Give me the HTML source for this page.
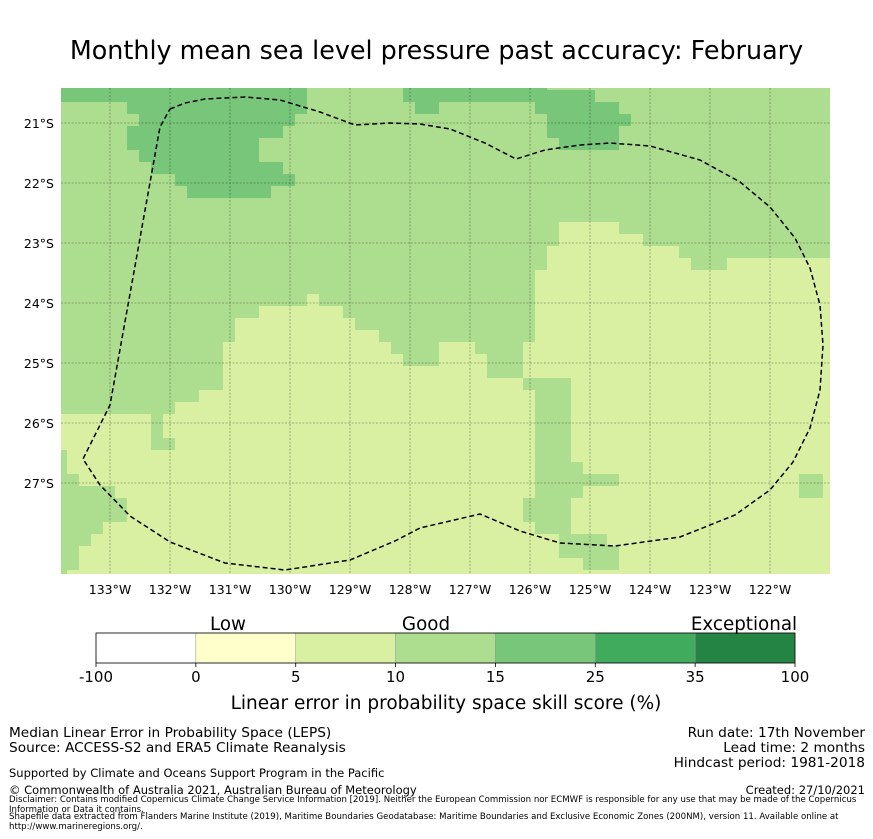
<!DOCTYPE html>
<html><head><meta charset="utf-8"><style>
body{margin:0;background:#fff;font-family:"DejaVu Sans","Liberation Sans",sans-serif;}
#wrap{position:relative;width:873px;height:839px;overflow:hidden;}
.t{position:absolute;white-space:nowrap;color:#000;}
</style></head><body>
<div id="wrap">
<div class="t" style="left:0;width:873px;text-align:center;top:35px;font-size:25.4px;">Monthly mean sea level pressure past accuracy: February</div>
<svg id="svg" width="873" height="839" style="position:absolute;left:0;top:0"></svg>
<div class="t" style="left:9px;top:726px;font-size:13.7px;line-height:15px">Median Linear Error in Probability Space (LEPS)<br>Source: ACCESS-S2 and ERA5 Climate Reanalysis</div>
<div class="t" style="right:8px;top:726px;font-size:13.7px;line-height:15px;text-align:right">Run date: 17th November<br>Lead time: 2 months<br>Hindcast period: 1981-2018</div>
<div class="t" style="left:9px;top:766px;font-size:11.5px">Supported by Climate and Oceans Support Program in the Pacific</div>
<div class="t" style="left:9px;top:783px;font-size:11.5px">© Commonwealth of Australia 2021, Australian Bureau of Meteorology</div>
<div class="t" style="right:8px;top:783px;font-size:11.5px">Created: 27/10/2021</div>
<div class="t" style="left:9px;top:796px;font-size:8.6px;line-height:9.5px;white-space:normal;width:860px">Disclaimer: Contains modified Copernicus Climate Change Service Information [2019]. Neither the European Commission nor ECMWF is responsible for any use that may be made of the Copernicus Information or Data it contains.</div>
<div class="t" style="left:9px;top:813px;font-size:8.6px;line-height:9.5px;white-space:normal;width:860px">Shapefile data extracted from Flanders Marine Institute (2019), Maritime Boundaries Geodatabase: Maritime Boundaries and Exclusive Economic Zones (200NM), version 11. Available online at http://www.marineregions.org/.</div>
</div>
<script>
const lonTicks=[-133,-132,-131,-130,-129,-128,-127,-126,-125,-124,-123,-122];
const latTicks=[-21,-22,-23,-24,-25,-26,-27];
const cbBounds=["-100","0","5","10","15","25","35","100"];
const cbColors=["#ffffff","#ffffcc","#d9f0a3","#addd8e","#78c679","#41ab5d","#238443"];
const cbCats=["Low","Good","Exceptional"];
const cellColors={a:"#d9f0a3",b:"#addd8e",c:"#78c679"};
const gridRows=[
"b|0-20c,29-40c","b|0-20c,29-44c","b|6-20c,30-31c,40-46c","b|7-19c,41-47c","b|6-18c,41-46c",
"b|6-16c,42-46c","b|7-16c","b|8-18c","b|10-19c","b|11-17c","b","b","b|42-46a","b|42-48a",
"b|41-51a","b|41-52a,56-64a","b|40-64a","b|40-64a","b|21-21a,40-64a","b|17-23a,40-64a",
"b|15-24a,40-64a","a|0-14b,27-39b","a|0-13b,28-31b,35-38b","a|0-13b,29-31b,36-38b",
"a|0-13b,36-38b","a|0-13b,39-42b","a|0-11b,40-42b","a|0-9b,40-42b","a|8-8b,40-42b",
"a|8-8b,40-42b","a|8-9b,40-42b","a|0-0b,40-42b","a|0-0b,40-43b","a|0-1b,40-46b,62-63b",
"a|0-4b,40-43b,62-63b","a|0-5b,39-42b","a|0-5b,39-42b","a|0-3b,40-42b","a|0-2b,42-45b",
"a|0-1b,42-46b","a|0-1b,44-46b","a|0-0b"];
const NCOLS=65;
// EEZ boundary in map pixel space (lon = -133+(x-110)/60, lat = -21-(y-123)/60)
const eezPx=[[170,109],[185,103],[205,99],[245,97],[280,100],[320,112],[355,125],[390,123],[420,124],[450,129],[485,143],[516,159],[545,150],[580,145],[610,143],[650,146],[700,160],[740,182],[770,207],[795,238],[810,268],[820,305],[823,345],[820,390],[810,428],[793,462],[770,490],[735,515],[680,537],[615,546],[560,543],[520,531],[480,514],[450,521],[420,528],[395,541],[350,560],[285,570],[225,563],[170,542],[130,516],[100,485],[83,459],[110,405],[160,127]];
const svg=document.getElementById('svg');
const NS="http://www.w3.org/2000/svg";
const X0=61,X1=830,Y0=88,Y1=574;
function xs(lon){return 110+(lon+133)*60;}
function ys(lat){return 123+(-21-lat)*60;}
function mk(tag,attrs,parent){const e=document.createElementNS(NS,tag);for(const k in attrs)e.setAttribute(k,attrs[k]);(parent||svg).appendChild(e);return e;}
const defs=mk('defs',{});
const cp=mk('clipPath',{id:'mapclip'},defs);mk('rect',{x:X0,y:Y0,width:X1-X0,height:Y1-Y0},cp);
const g=mk('g',{'clip-path':'url(#mapclip)'});


gridRows.forEach((spec,r)=>{
  const parts=spec.split('|');const base=parts[0];
  const row=new Array(NCOLS).fill(base);
  if(parts[1])parts[1].split(',').forEach(s=>{const m=s.match(/(\d+)-(\d+)(\w)/);for(let c=+m[1];c<=+m[2];c++)row[c]=m[3];});
  let c=0;
  while(c<NCOLS){let e=c;while(e+1<NCOLS&&row[e+1]===row[c])e++;
    const lonA=-133.817+(c*12-6)/60, lonB=-133.817+((e+1)*12-6)/60;
    const latA=-20.417-(r*12-10)/60;
    const x=xs(lonA),w=xs(lonB)-x,y=ys(latA);
    const rect=mk('rect',{x:x,y:y,width:w+0.3,height:12.3,fill:cellColors[row[c]]},g);
    
    
    c=e+1;}
});
lonTicks.forEach(l=>{const x=xs(l);
  const ln=mk('line',{x1:x,x2:x,y1:Y0,y2:Y1,stroke:'#000','stroke-opacity':0.35,'stroke-width':0.8,'stroke-dasharray':'2,1.5'},g);
  
  const t=mk('text',{x:x,y:594,'font-size':12.5,'text-anchor':'middle','font-family':'DejaVu Sans, sans-serif'});
  t.textContent=Math.abs(l)+'°W';});
latTicks.forEach(l=>{const y=ys(l);
  const ln=mk('line',{x1:X0,x2:X1,y1:y,y2:y,stroke:'#000','stroke-opacity':0.35,'stroke-width':0.8,'stroke-dasharray':'2,1.5'},g);
  
  const t=mk('text',{x:54,y:y+5,'font-size':12.5,'text-anchor':'end','font-family':'DejaVu Sans, sans-serif'});
  t.textContent=Math.abs(l)+'°S';});
let d='';eezPx.forEach((p,i)=>{d+=(i?'L':'M')+p[0]+','+p[1];});d+='Z';
const eezP=mk('path',{d:d,fill:'none',stroke:'#000','stroke-width':1.5,'stroke-dasharray':'5,3','stroke-linejoin':'round'},g);

// colorbar
const cbX=96,cbW=699,cbY=633,cbH=30,seg=cbW/cbColors.length;
cbColors.forEach((c,i)=>{const r=mk('rect',{x:cbX+i*seg,y:cbY,width:seg,height:cbH,fill:c,stroke:'#999','stroke-width':0.5});
  });
const cbo=mk('rect',{x:cbX,y:cbY,width:cbW,height:cbH,fill:'none',stroke:'#000','stroke-width':0.8});

cbBounds.forEach((b,i)=>{const x=cbX+i*seg;
  mk('line',{x1:x,x2:x,y1:cbY+cbH,y2:cbY+cbH+4,stroke:'#000','stroke-width':0.8});
  const t=mk('text',{x:x,y:682,'font-size':15,'text-anchor':'middle','font-family':'DejaVu Sans, sans-serif'});
  t.textContent=b;});
const catX=[228,426,744];
cbCats.forEach((c,i)=>{const t=mk('text',{x:catX[i],y:630,'font-size':18.3,'text-anchor':'middle','font-family':'DejaVu Sans, sans-serif'});
  t.textContent=c;});
const at=mk('text',{x:446,y:709,'font-size':18.5,'text-anchor':'middle','font-family':'DejaVu Sans, sans-serif'});
at.textContent='Linear error in probability space skill score (%)';

</script>
</body></html>
